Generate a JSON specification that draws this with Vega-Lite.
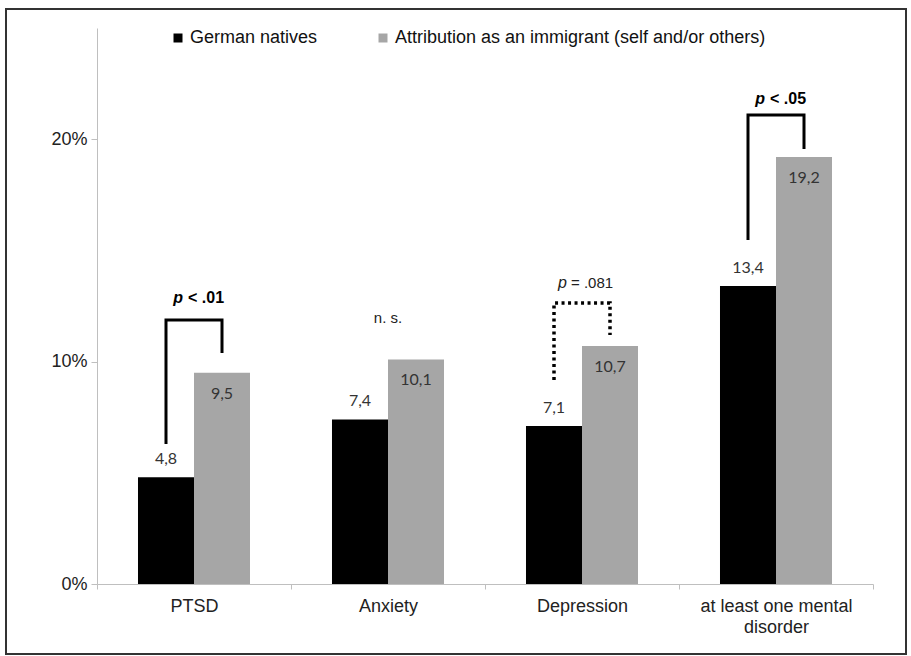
{
  "$schema": "https://vega.github.io/schema/vega-lite/v6.json",
  "width": 776,
  "height": 556,
  "autosize": {"type": "none"},
  "padding": {"left": 97, "top": 28, "right": 38, "bottom": 72},
  "background": "white",
  "config": {"view": {"stroke": null}, "font": "Liberation Sans"},
  "datasets": {
    "bars": [
      {"cat": "PTSD", "s": "German natives", "v": 4.8, "lab": "4,8"},
      {"cat": "PTSD", "s": "Attribution as an immigrant (self and/or others)", "v": 9.5, "lab": "9,5"},
      {"cat": "Anxiety", "s": "German natives", "v": 7.4, "lab": "7,4"},
      {"cat": "Anxiety", "s": "Attribution as an immigrant (self and/or others)", "v": 10.1, "lab": "10,1"},
      {"cat": "Depression", "s": "German natives", "v": 7.1, "lab": "7,1"},
      {"cat": "Depression", "s": "Attribution as an immigrant (self and/or others)", "v": 10.7, "lab": "10,7"},
      {"cat": "at least one mental disorder", "s": "German natives", "v": 13.4, "lab": "13,4"},
      {"cat": "at least one mental disorder", "s": "Attribution as an immigrant (self and/or others)", "v": 19.2, "lab": "19,2"}
    ],
    "brackets": [
      {"b": "PTSD", "cat": "PTSD", "s": "German natives", "y": 6.3, "o": 1, "style": "solid"},
      {"b": "PTSD", "cat": "PTSD", "s": "German natives", "y": 11.87, "o": 2, "style": "solid"},
      {"b": "PTSD", "cat": "PTSD", "s": "Attribution as an immigrant (self and/or others)", "y": 11.87, "o": 3, "style": "solid"},
      {"b": "PTSD", "cat": "PTSD", "s": "Attribution as an immigrant (self and/or others)", "y": 10.39, "o": 4, "style": "solid"},
      {"b": "Dep", "cat": "Depression", "s": "German natives", "y": 9.17, "o": 1, "style": "dotted"},
      {"b": "Dep", "cat": "Depression", "s": "German natives", "y": 12.63, "o": 2, "style": "dotted"},
      {"b": "Dep", "cat": "Depression", "s": "Attribution as an immigrant (self and/or others)", "y": 12.63, "o": 3, "style": "dotted"},
      {"b": "Dep", "cat": "Depression", "s": "Attribution as an immigrant (self and/or others)", "y": 11.2, "o": 4, "style": "dotted"},
      {"b": "Any", "cat": "at least one mental disorder", "s": "German natives", "y": 15.47, "o": 1, "style": "solid"},
      {"b": "Any", "cat": "at least one mental disorder", "s": "German natives", "y": 21.09, "o": 2, "style": "solid"},
      {"b": "Any", "cat": "at least one mental disorder", "s": "Attribution as an immigrant (self and/or others)", "y": 21.09, "o": 3, "style": "solid"},
      {"b": "Any", "cat": "at least one mental disorder", "s": "Attribution as an immigrant (self and/or others)", "y": 19.56, "o": 4, "style": "solid"}
    ],
    "notes": [
      {"cat": "PTSD", "y": 12.86, "p": "p", "rest": "< .01", "kind": "bold"},
      {"cat": "at least one mental disorder", "y": 21.8, "p": "p", "rest": "< .05", "kind": "bold"},
      {"cat": "Depression", "y": 13.53, "p": "p", "rest": "= .081", "kind": "normal"},
      {"cat": "Anxiety", "y": 11.96, "p": "", "rest": "n. s.", "kind": "ns"}
    ],
    "frame": [{"x0": 0, "x1": 1, "y0": -3.147, "y1": 25.854}]
  },
  "layer": [
    {
      "data": {"name": "frame"},
      "mark": {"type": "rect", "filled": false, "stroke": "#333333", "strokeWidth": 2},
      "encoding": {
        "x": {"field": "x0", "type": "quantitative", "scale": {"domain": [0.10111, 0.96333], "nice": false, "zero": false}, "axis": null},
        "x2": {"field": "x1"},
        "y": {
          "field": "y0", "type": "quantitative", "scale": {"domain": [0, 25], "nice": false},
          "axis": {
            "title": null, "values": [0, 10, 20], "labelExpr": "datum.value + '%'", "grid": false,
            "domainColor": "#bfbfbf", "tickColor": "#bfbfbf", "tickSize": 6,
            "labelFont": "Liberation Sans", "labelFontSize": 18, "labelColor": "#222222", "labelPadding": 4
          }
        },
        "y2": {"field": "y1"}
      }
    },
    {
      "layer": [
        {
          "data": {"name": "bars"},
          "mark": {"type": "bar"},
          "encoding": {
            "x": {
              "field": "cat", "type": "nominal",
              "scale": {"domain": ["PTSD", "Anxiety", "Depression", "at least one mental disorder"], "paddingInner": 0, "paddingOuter": 0},
              "axis": {
                "title": null, "labelAngle": 0, "tickBand": "extent",
                "domainColor": "#bfbfbf", "tickColor": "#bfbfbf", "tickSize": 5,
                "labelFont": "Liberation Sans", "labelFontSize": 18, "labelColor": "#222222",
                "labelPadding": 8, "labelLineHeight": 21,
                "labelExpr": "datum.label == 'at least one mental disorder' ? ['at least one mental', 'disorder'] : datum.label"
              }
            },
            "xOffset": {
              "field": "s", "type": "nominal",
              "scale": {"domain": ["German natives", "Attribution as an immigrant (self and/or others)"], "paddingInner": 0, "paddingOuter": 0.732}
            },
            "y": {
              "field": "v", "type": "quantitative",
              "scale": {"domain": [0, 25], "nice": false},
              "axis": {
                "title": null, "values": [0, 10, 20], "labelExpr": "datum.value + '%'", "grid": false,
                "domainColor": "#bfbfbf", "tickColor": "#bfbfbf", "tickSize": 6,
                "labelFont": "Liberation Sans", "labelFontSize": 18, "labelColor": "#222222", "labelPadding": 4
              }
            },
            "color": {
              "field": "s", "type": "nominal",
              "scale": {"domain": ["German natives", "Attribution as an immigrant (self and/or others)"], "range": ["#000000", "#a6a6a6"]},
              "legend": {
                "title": null, "orient": "none", "legendX": 72, "legendY": 1, "direction": "horizontal",
                "symbolType": "square", "symbolSize": 81, "symbolStrokeWidth": 0,
                "labelFont": "Liberation Sans", "labelFontSize": 18, "labelColor": "#111111",
                "labelOffset": 3, "columnPadding": 56, "labelLimit": 500
              }
            }
          }
        },
        {
          "data": {"name": "bars"},
          "transform": [{"filter": "datum.s == 'German natives'"}],
          "mark": {"type": "text", "baseline": "bottom", "dy": -10, "font": "Lato", "fontSize": 16, "color": "#333333"},
          "encoding": {
            "x": {"field": "cat", "type": "nominal", "scale": {"domain": ["PTSD", "Anxiety", "Depression", "at least one mental disorder"]}},
            "xOffset": {"field": "s", "type": "nominal", "scale": {"domain": ["German natives", "Attribution as an immigrant (self and/or others)"]}},
            "y": {"field": "v", "type": "quantitative"},
            "text": {"field": "lab"}
          }
        },
        {
          "data": {"name": "bars"},
          "transform": [{"filter": "datum.s != 'German natives'"}],
          "mark": {"type": "text", "baseline": "top", "dy": 13, "font": "Lato", "fontSize": 16, "color": "#333333"},
          "encoding": {
            "x": {"field": "cat", "type": "nominal", "scale": {"domain": ["PTSD", "Anxiety", "Depression", "at least one mental disorder"]}},
            "xOffset": {"field": "s", "type": "nominal", "scale": {"domain": ["German natives", "Attribution as an immigrant (self and/or others)"]}},
            "y": {"field": "v", "type": "quantitative"},
            "text": {"field": "lab"}
          }
        },
        {
          "data": {"name": "brackets"},
          "transform": [{"filter": "datum.style == 'solid'"}],
          "mark": {"type": "line", "color": "#000000", "strokeWidth": 3, "strokeCap": "butt", "strokeJoin": "miter"},
          "encoding": {
            "x": {"field": "cat", "type": "nominal", "scale": {"domain": ["PTSD", "Anxiety", "Depression", "at least one mental disorder"]}},
            "xOffset": {"field": "s", "type": "nominal", "scale": {"domain": ["German natives", "Attribution as an immigrant (self and/or others)"]}},
            "y": {"field": "y", "type": "quantitative"},
            "detail": {"field": "b"},
            "order": {"field": "o", "type": "quantitative"}
          }
        },
        {
          "data": {"name": "brackets"},
          "transform": [{"filter": "datum.style == 'dotted'"}],
          "mark": {"type": "line", "color": "#000000", "strokeWidth": 3.5, "strokeDash": [3, 3.5], "strokeCap": "butt", "strokeJoin": "miter"},
          "encoding": {
            "x": {"field": "cat", "type": "nominal", "scale": {"domain": ["PTSD", "Anxiety", "Depression", "at least one mental disorder"]}},
            "xOffset": {"field": "s", "type": "nominal", "scale": {"domain": ["German natives", "Attribution as an immigrant (self and/or others)"]}},
            "y": {"field": "y", "type": "quantitative"},
            "detail": {"field": "b"},
            "order": {"field": "o", "type": "quantitative"}
          }
        },
        {
          "data": {"name": "notes"},
          "transform": [{"filter": "datum.kind == 'bold'"}],
          "mark": {"type": "text", "align": "right", "baseline": "middle", "dx": -11, "fontSize": 16, "fontWeight": "bold", "fontStyle": "italic", "color": "#000000"},
          "encoding": {
            "x": {"field": "cat", "type": "nominal", "scale": {"domain": ["PTSD", "Anxiety", "Depression", "at least one mental disorder"]}},
            "y": {"field": "y", "type": "quantitative"},
            "text": {"field": "p"}
          }
        },
        {
          "data": {"name": "notes"},
          "transform": [{"filter": "datum.kind == 'bold'"}],
          "mark": {"type": "text", "align": "left", "baseline": "middle", "dx": -6, "fontSize": 16, "fontWeight": "bold", "color": "#000000"},
          "encoding": {
            "x": {"field": "cat", "type": "nominal", "scale": {"domain": ["PTSD", "Anxiety", "Depression", "at least one mental disorder"]}},
            "y": {"field": "y", "type": "quantitative"},
            "text": {"field": "rest"}
          }
        },
        {
          "data": {"name": "notes"},
          "transform": [{"filter": "datum.kind == 'normal'"}],
          "mark": {"type": "text", "align": "right", "baseline": "middle", "dx": -15, "fontSize": 16, "fontStyle": "italic", "color": "#222222"},
          "encoding": {
            "x": {"field": "cat", "type": "nominal", "scale": {"domain": ["PTSD", "Anxiety", "Depression", "at least one mental disorder"]}},
            "y": {"field": "y", "type": "quantitative"},
            "text": {"field": "p"}
          }
        },
        {
          "data": {"name": "notes"},
          "transform": [{"filter": "datum.kind == 'normal'"}],
          "mark": {"type": "text", "align": "left", "baseline": "middle", "dx": -11, "fontSize": 15, "color": "#222222"},
          "encoding": {
            "x": {"field": "cat", "type": "nominal", "scale": {"domain": ["PTSD", "Anxiety", "Depression", "at least one mental disorder"]}},
            "y": {"field": "y", "type": "quantitative"},
            "text": {"field": "rest"}
          }
        },
        {
          "data": {"name": "notes"},
          "transform": [{"filter": "datum.kind == 'ns'"}],
          "mark": {"type": "text", "align": "center", "baseline": "middle", "fontSize": 15, "color": "#222222"},
          "encoding": {
            "x": {"field": "cat", "type": "nominal", "scale": {"domain": ["PTSD", "Anxiety", "Depression", "at least one mental disorder"]}},
            "y": {"field": "y", "type": "quantitative"},
            "text": {"field": "rest"}
          }
        }
      ]
    }
  ],
  "resolve": {"scale": {"x": "independent"}, "axis": {"x": "independent"}}
}
